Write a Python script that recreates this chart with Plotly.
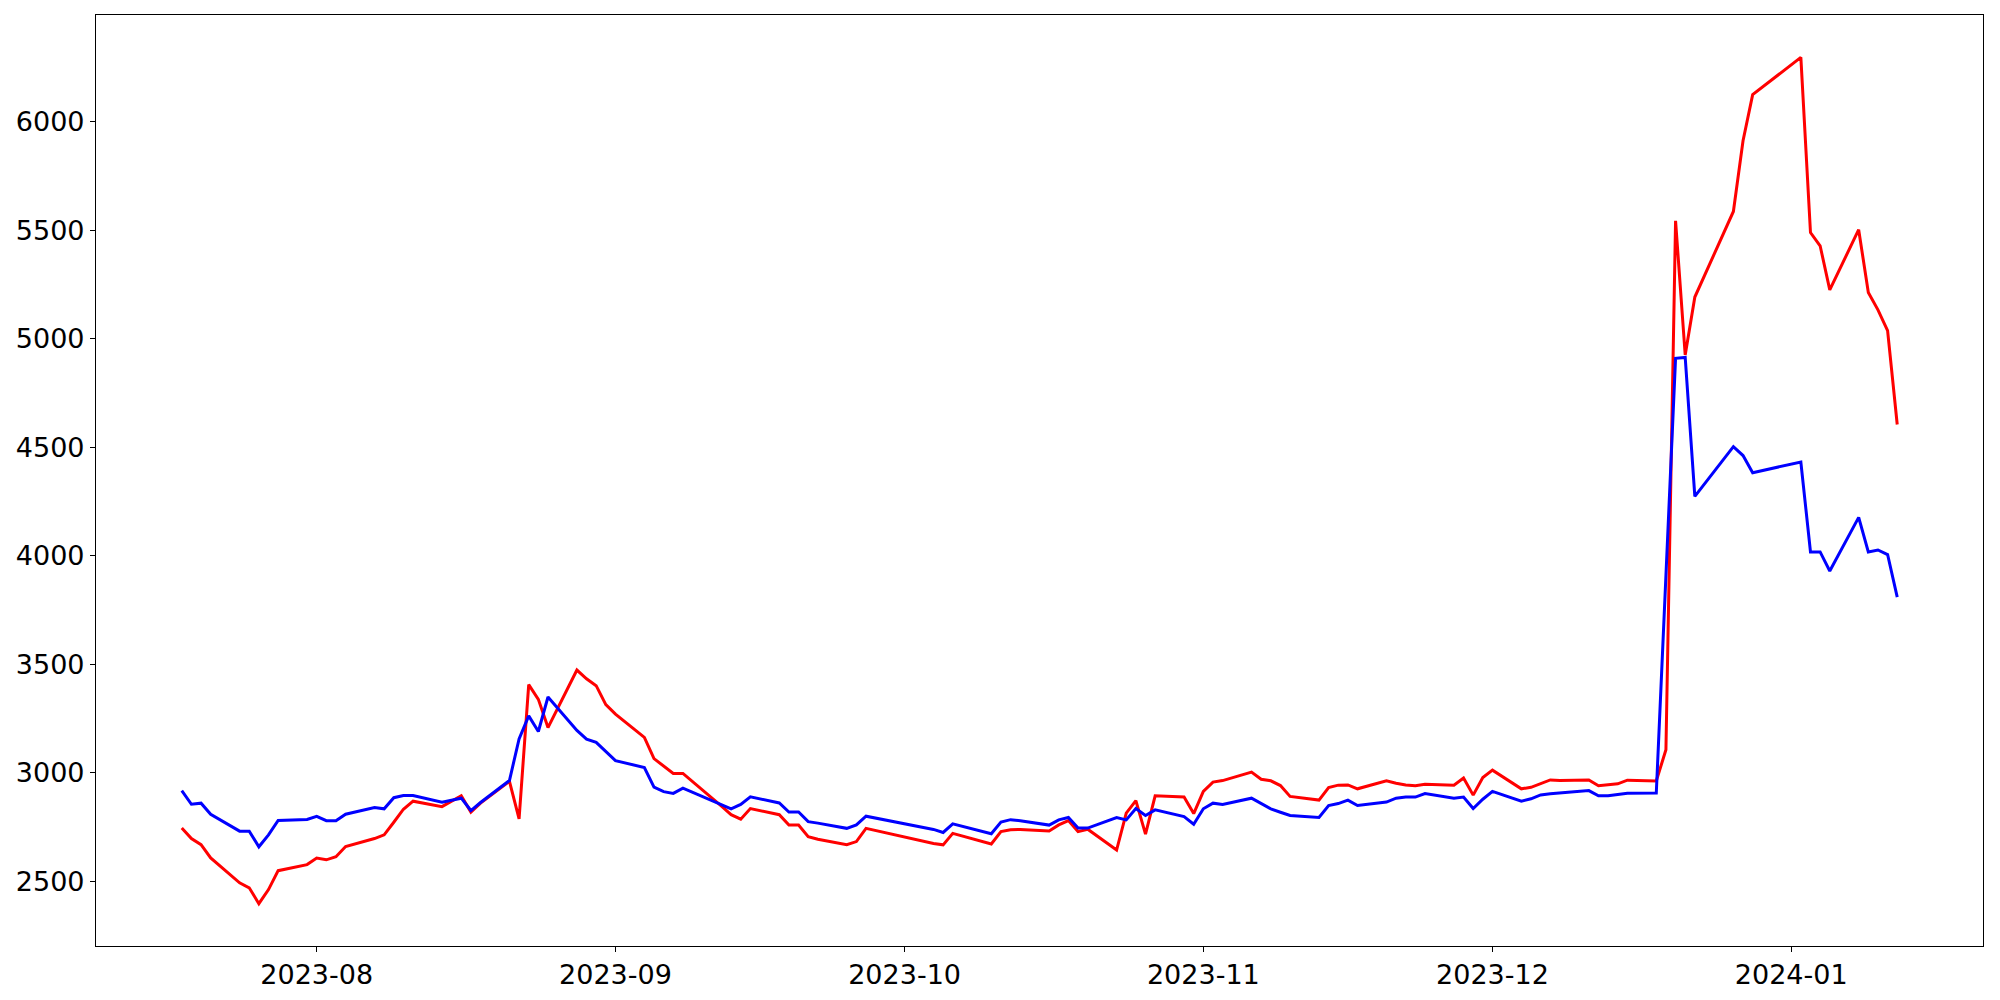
import plotly.graph_objects as go
import pandas as pd

dates = [
    "2023-07-18", "2023-07-19", "2023-07-20", "2023-07-21", "2023-07-24", "2023-07-25", "2023-07-26", "2023-07-27", "2023-07-28", "2023-07-31",
    "2023-08-01", "2023-08-02", "2023-08-03", "2023-08-04", "2023-08-07", "2023-08-08", "2023-08-09", "2023-08-10", "2023-08-11", "2023-08-14",
    "2023-08-16", "2023-08-17", "2023-08-18", "2023-08-21", "2023-08-22", "2023-08-23", "2023-08-24", "2023-08-25", "2023-08-28", "2023-08-29",
    "2023-08-30", "2023-08-31",
    "2023-09-01", "2023-09-04", "2023-09-05", "2023-09-06", "2023-09-07", "2023-09-08", "2023-09-11", "2023-09-12", "2023-09-13", "2023-09-14",
    "2023-09-15", "2023-09-18", "2023-09-19", "2023-09-20", "2023-09-21", "2023-09-22", "2023-09-25", "2023-09-26", "2023-09-27",
    "2023-10-04", "2023-10-05", "2023-10-06", "2023-10-10", "2023-10-11", "2023-10-12", "2023-10-13", "2023-10-16", "2023-10-17", "2023-10-18",
    "2023-10-19", "2023-10-20", "2023-10-23", "2023-10-24", "2023-10-25", "2023-10-26", "2023-10-27", "2023-10-30", "2023-10-31",
    "2023-11-01", "2023-11-02", "2023-11-03", "2023-11-06", "2023-11-07", "2023-11-08", "2023-11-09", "2023-11-10", "2023-11-13", "2023-11-14",
    "2023-11-15", "2023-11-16", "2023-11-17", "2023-11-20", "2023-11-21", "2023-11-22", "2023-11-23", "2023-11-24", "2023-11-27", "2023-11-28",
    "2023-11-29", "2023-11-30",
    "2023-12-01", "2023-12-04", "2023-12-05", "2023-12-06", "2023-12-07", "2023-12-08", "2023-12-11", "2023-12-12", "2023-12-13", "2023-12-14",
    "2023-12-15", "2023-12-18", "2023-12-19", "2023-12-20", "2023-12-21", "2023-12-22", "2023-12-26", "2023-12-27", "2023-12-28",
    "2024-01-02", "2024-01-03", "2024-01-04", "2024-01-05", "2024-01-08", "2024-01-09", "2024-01-10", "2024-01-11", "2024-01-12",
]

red_values = [
    2747, 2698, 2670, 2609, 2494, 2471, 2398, 2463, 2550, 2578,
    2608, 2600, 2614, 2661, 2698, 2715, 2773, 2833, 2870, 2845,
    2895, 2820, 2861, 2962, 2789, 3407, 3339, 3209, 3474, 3434,
    3402, 3315,
    3271, 3164, 3066, 3033, 2998, 2998, 2887, 2847, 2808, 2787,
    2836, 2808, 2760, 2760, 2707, 2695, 2670, 2684, 2745,
    2675, 2669, 2722, 2673, 2730, 2738, 2740, 2733, 2761, 2781,
    2730, 2741, 2645, 2815, 2873, 2718, 2895, 2889, 2813,
    2915, 2958, 2965, 3004, 2971, 2964, 2942, 2892, 2875, 2933,
    2944, 2945, 2927, 2964, 2953, 2945, 2941, 2948, 2944, 2977,
    2898, 2979,
    3013, 2927, 2934, 2950, 2968, 2965, 2968, 2941, 2947, 2950,
    2967, 2963, 3107, 5543, 4925, 5192, 5586, 5912, 6124,
    6296, 5489, 5428, 5225, 5502, 5213, 5133, 5037, 4605,
]

blue_values = [
    2919, 2856, 2861, 2810, 2732, 2732, 2660, 2715, 2781, 2786,
    2800, 2780, 2780, 2810, 2841, 2835, 2886, 2896, 2896, 2865,
    2884, 2827, 2864, 2965, 3157, 3263, 3191, 3350, 3196, 3156,
    3141, 3101,
    3057, 3025, 2935, 2914, 2906, 2930, 2871, 2852, 2835, 2855,
    2890, 2862, 2820, 2820, 2776, 2769, 2745, 2761, 2801,
    2740, 2726, 2766, 2720, 2774, 2785, 2780, 2760, 2784, 2795,
    2746, 2746, 2795, 2784, 2836, 2804, 2830, 2799, 2764,
    2835, 2861, 2855, 2884, 2858, 2835, 2819, 2804, 2795, 2850,
    2859, 2875, 2850, 2866, 2884, 2889, 2889, 2905, 2884, 2889,
    2836, 2879,
    2915, 2870, 2881, 2899, 2904, 2907, 2919, 2895, 2895, 2901,
    2907, 2908, 3880, 4910, 4914, 4274, 4503, 4462, 4383,
    4432, 4018, 4018, 3930, 4177, 4018, 4027, 4006, 3810,
]

y_ticks = [2500, 3000, 3500, 4000, 4500, 5000, 5500, 6000]
x_ticks = ["2023-08-01", "2023-09-01", "2023-10-01", "2023-11-01", "2023-12-01", "2024-01-01"]
x_tick_labels = ["2023-08", "2023-09", "2023-10", "2023-11", "2023-12", "2024-01"]

d = pd.to_datetime(pd.Series(dates))
span = d.max() - d.min()
x_range = [d.min() - span * 0.05, d.max() + span * 0.05]
all_vals = red_values + blue_values
vspan = max(all_vals) - min(all_vals)
y_range = [min(all_vals) - vspan * 0.05, max(all_vals) + vspan * 0.05]

fig = go.Figure()
fig.add_trace(go.Scatter(x=dates, y=red_values, mode="lines",
                         line=dict(color="#ff0000", width=3), showlegend=False))
fig.add_trace(go.Scatter(x=dates, y=blue_values, mode="lines",
                         line=dict(color="#0000ff", width=3), showlegend=False))

axis_common = dict(showline=True, linecolor="black", linewidth=1.1, mirror=True,
                   showgrid=False, zeroline=False, ticks="outside", ticklen=5,
                   tickwidth=1.1, tickcolor="black", automargin=False,
                   tickfont=dict(family="DejaVu Sans", size=27, color="black"))

fig.update_layout(
    width=2000, height=1000,
    margin=dict(l=88, r=25, t=7, b=62, autoexpand=False),
    paper_bgcolor="white", plot_bgcolor="white",
    xaxis=dict(type="date", range=[str(x_range[0]), str(x_range[1])],
               tickvals=x_ticks, ticktext=x_tick_labels, **axis_common),
    yaxis=dict(range=y_range, tickvals=y_ticks,
               ticktext=[str(v) for v in y_ticks], **axis_common),
)

fig.write_html("out.html")
